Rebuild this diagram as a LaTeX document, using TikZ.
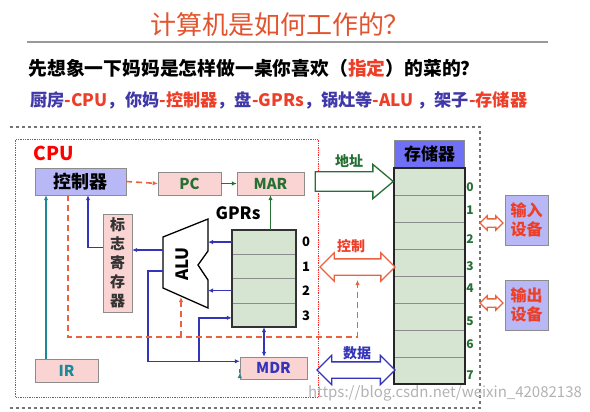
\documentclass[tikz,border=0pt]{standalone}
\usepackage{fontspec}
\setmainfont{Noto Sans CJK SC}
\usepackage{xcolor}
\usepackage{tikz}
\definecolor{titlered}{RGB}{226, 84, 46}
\definecolor{hintred}{RGB}{238, 62, 40}
\definecolor{hintblue}{RGB}{64, 56, 168}
\definecolor{boxgray}{RGB}{140, 140, 140}
\definecolor{regpink}{RGB}{250, 212, 210}
\definecolor{ctrlblue}{RGB}{184, 184, 246}
\definecolor{memblue}{RGB}{112, 112, 246}
\definecolor{cellgreen}{RGB}{214, 229, 209}
\definecolor{darkgreen}{RGB}{38, 112, 52}
\definecolor{pathblue}{RGB}{52, 52, 186}
\definecolor{pathteal}{RGB}{28, 138, 150}
\definecolor{ctrlorange}{RGB}{234, 98, 62}
\usetikzlibrary{arrows.meta, positioning, calc, fit, shapes.arrows}

\begin{document}
\begin{tikzpicture}[
    x=1pt, y=-1pt,
    fs/.style={font=\fontsize{#1}{#1}\selectfont\bfseries},
    reg/.style={rectangle, draw=boxgray, fill=regpink, minimum width=63pt, minimum height=23pt,
                inner sep=0pt, fs=15},
    cell/.style={rectangle, draw=black!45, fill=cellgreen, inner sep=0pt},
    wire/.style={-{Latex[length=5pt,width=4.5pt]}, line width=1.3pt},
    cdash/.style={ctrlorange, line width=1.6pt, dash pattern=on 6pt off 4pt},
    hollow/.style={draw=#1, fill=white, line width=1.3pt, inner xsep=0pt, minimum width=0pt},
    iobox/.style={rectangle, draw=boxgray, fill=ctrlblue, text=hintred, align=center,
                  minimum width=43pt, minimum height=50pt, inner sep=0pt,
                  font=\fontsize{16}{19}\selectfont\bfseries}
]
    \useasboundingbox (0,0) rectangle (590,412);

    \node[font=\fontsize{26}{26}\selectfont, text=titlered] (title) at (280,25) {计算机是如何工作的？};
    \draw[black!40, line width=1.2pt] (27,42) -- (548,42);
    \node[fs=18.8, anchor=west] (question) at (25,68)
        {先想象一下妈妈是怎样做一桌你喜欢（\textcolor{hintred}{指定}）的菜的？};
    \node[fs=17.2, anchor=west, text=hintblue] (mapping) at (27,100)
        {厨房\textcolor{hintred}{-CPU}，你妈\textcolor{hintred}{-控制器}，盘\textcolor{hintred}{-GPRs}，锅灶等\textcolor{hintred}{-ALU} ，架子\textcolor{hintred}{-存储器}};

    \draw[black!55, dashed, line width=1.3pt] (10,127) -- (480,127) -- (480,408) -- (10,408);
    \node[draw=red!85, densely dotted, line width=1.3pt, minimum width=303pt, minimum height=258pt,
          anchor=north west] (cpu) at (15,139) {};
    \node[fs=19, text=red] (cpulabel) at (54,153) {CPU};

    \node[reg, fill=ctrlblue, minimum width=91pt, minimum height=27pt, fs=18] (ctrl) at (80.5,181.5) {控制器};
    \node[reg, text=darkgreen] (pc) at (189.5,183.5) {PC};
    \node[reg, text=darkgreen, minimum width=67pt] (mar) at (270.5,183.5) {MAR};
    \node[reg, text=pathblue, minimum width=67pt, minimum height=22pt] (mdr) at (273.5,368) {MDR};
    \node[reg, text=pathteal] (ir) at (66.5,370.5) {IR};
    \node[reg, minimum width=29pt, minimum height=98pt, align=center,
          font=\fontsize{15}{19}\selectfont\bfseries, text=black!80] (flag) at (117.5,263)
        {标\\志\\寄\\存\\器};

    \foreach \i in {0,...,3}
        \node[cell, minimum width=64pt, minimum height=24.25pt] (gpr\i) at (264,242.1+24.25*\i) {};
    \node[fit=(gpr0)(gpr3), draw=black!80, line width=1.6pt, inner sep=0pt] (gprs) {};
    \node[fs=17] (gprlabel) at (238,213) {GPRs};
    \foreach \i/\y in {0/242,1/267,2/291,3/316}
        \node[fs=13] (gprnum\i) at (306,\y) {\i};

    \draw[line width=1.3pt, fill=white] (163,237) coordinate (alu-nw) -- (208,219) coordinate (alu-ne)
        -- (208,251) -- (198,265) -- (208,280) -- (208,308) coordinate (alu-se)
        -- (163,288) coordinate (alu-sw) -- cycle;
    \coordinate (alu-flag) at (163,250);
    \coordinate (alu-out) at (163,271);
    \coordinate (alu-ctl) at (181,297);
    \node[fs=17, rotate=90] (alu) at (182,264) {ALU};

    \node[reg, fill=memblue, minimum width=70pt, minimum height=27pt, fs=17] (memhead) at (429.5,153.5) {存储器};
    \foreach \i in {0,...,7}
        \node[cell, minimum width=70pt, minimum height=27pt] (mem\i) at (429.5,181.5+27*\i) {};
    \node[fit=(mem0)(mem7), draw=black!85, line width=1.8pt, inner sep=0pt] (mem) {};
    \foreach \i/\y in {0/187,1/210,2/239,3/266,4/288,5/321,6/344,7/375}
        \node[fs=12, text=darkgreen] (memnum\i) at (470,\y) {\i};

    \node[hollow=darkgreen, single arrow, minimum height=78pt, inner ysep=9pt,
          single arrow head extend=7.5pt, single arrow tip angle=80, anchor=tip] (addr) at (mem0.west) {};
    \node[hollow=ctrlorange, double arrow, minimum height=75pt, inner ysep=7.5pt,
          double arrow head extend=6pt] (ctl) at (357.5,267) {};
    \node[hollow=pathblue, double arrow, minimum height=78pt, inner ysep=7.5pt,
          double arrow head extend=6.5pt] (data) at (356,370) {};
    \node[fs=14, text=darkgreen] (addrlabel) at (349,161) {地址};
    \node[fs=14, text=hintred] (ctllabel) at (351,246) {控制};
    \node[fs=14, text=pathblue] (datalabel) at (357,353) {数据};

    \node[iobox] (indev) at (526.5,220) {输入\\设备};
    \node[iobox] (outdev) at (526.5,305) {输出\\设备};
    \node[hollow=ctrlorange, double arrow, minimum height=23pt, inner ysep=3.5pt,
          double arrow head extend=3pt] (inarrow) at (491.5,223) {};
    \node[hollow=ctrlorange, double arrow, minimum height=23pt, inner ysep=3.5pt,
          double arrow head extend=3pt] (outarrow) at (491.5,303) {};

    \draw[wire, cdash] (ctrl.east) -- (pc.west);
    \draw[wire, darkgreen] (pc) -- (mar);
    \draw[wire, darkgreen] (gpr0.north -| mar) -- (mar.south);
    \draw[wire, pathblue] (gpr0.west) -- (gpr0.west -| alu-ne);
    \draw[wire, pathblue] (gpr2.west) -- (gpr2.west -| alu-ne);
    \draw[wire, pathblue] (alu-flag) -- (alu-flag -| flag.east);
    \draw[wire, pathblue] ($(flag.north west)!0.34!(flag.south west)$) -| ([xshift=7.5pt]ctrl.south);
    \coordinate (mdr-in) at ($(mdr.north west)!0.2!(mdr.south west)$);
    \draw[wire, pathblue] (alu-out) -- ++(-15,0) |- (mdr-in);
    \draw[wire, pathblue] (199,0 |- mdr-in) |- ($(gpr3.west)+(0,3)$);
    \draw[{Latex[length=5pt,width=4.5pt]}-{Latex[length=5pt,width=4.5pt]}, line width=1.3pt, pathblue]
        (gpr3.south) -- (gpr3.south |- mdr.north);
    \draw[wire, pathteal] ($(mdr.west)+(0,5)$) -- ($(mdr.west)+(0,5)$ -| ir.east);
    \draw[wire, pathteal] ([xshift=-20.5pt]ir.north) -- ([xshift=-20.5pt]ir.north |- ctrl.south);
    \draw[cdash, -{Latex[length=5pt,width=4.5pt]}] ([xshift=-12.5pt]ctrl.south)
        |- ($(ctl.center)+(0,70)$) -- ($(ctl.center)+(0,13)$);
    \draw[cdash, -{Latex[length=5pt,width=4.5pt]}] (alu-ctl |- 0,337) -- (alu-ctl);

    \node[text=black!30, font=\fontsize{15}{15}\selectfont] (mark) at (445,393) {https://blog.csdn.net/weixin\_42082138};
\end{tikzpicture}
\end{document}
